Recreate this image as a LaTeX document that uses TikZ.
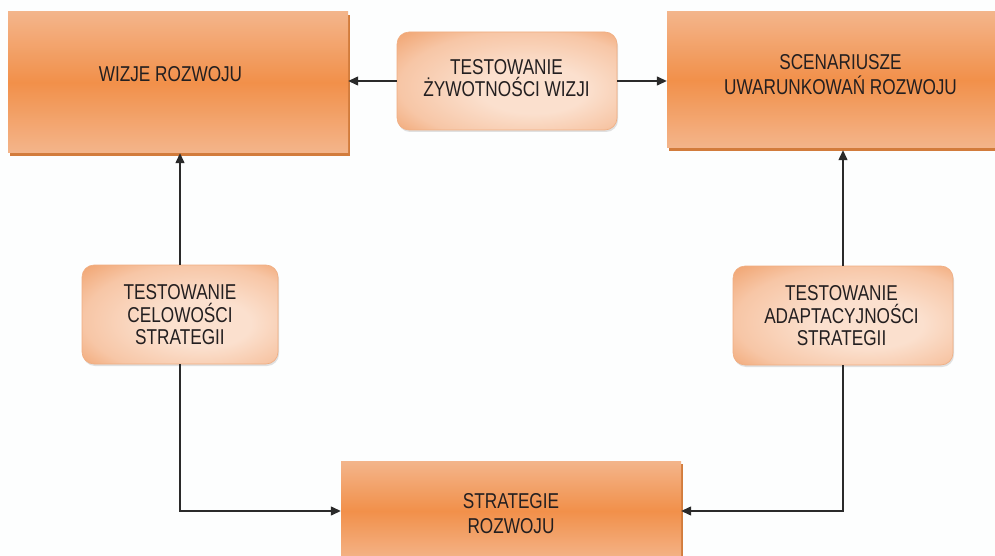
\documentclass[tikz,border=0pt]{standalone}
\usepackage{fontspec}
\setmainfont{Liberation Sans}[FakeStretch=0.8]
\usetikzlibrary{arrows.meta,shadows}

\definecolor{paper}{HTML}{FDFEFE}
\definecolor{barlight}{HTML}{F3B58B}
\definecolor{barmid}{HTML}{F2904A}
\definecolor{barshade}{HTML}{D27C3C}
\definecolor{peachin}{HTML}{FBE0CE}
\definecolor{peachmid}{HTML}{F7C6A6}
\definecolor{peachout}{HTML}{EF9C64}
\definecolor{peachedge}{HTML}{F0AE82}
\definecolor{ink}{HTML}{231F20}
\definecolor{wire}{HTML}{2A2A2A}

% soft glow for the rounded test boxes, brighter towards lower right
\pgfdeclareradialshading{peachglow}{\pgfpoint{8bp}{-6bp}}{%
  color(0bp)=(peachin); color(12bp)=(peachin); color(28bp)=(peachmid);
  color(40bp)=(peachout); color(50bp)=(peachout)}

\tikzset{
  bigbox/.style={rectangle, inner sep=0pt, draw=none,
    top color=barlight, bottom color=barlight, middle color=barmid,
    general shadow={fill=barshade, shadow xshift=1.5pt, shadow yshift=-3pt}},
  testbox/.style={rectangle, rounded corners=12pt, inner sep=0pt,
    shading=peachglow, draw=peachedge, line width=0.6pt,
    general shadow={fill=black!12, shadow xshift=1pt, shadow yshift=-2pt}},
  label/.style={text=ink, align=center, inner sep=0pt,
    font=\fontsize{21.5}{25}\selectfont},
  testlabel/.style={label, font=\fontsize{21.5}{22.5}\selectfont},
  link/.style={draw=wire, line width=1.3pt,
    -{Triangle[length=10pt,width=9pt]}},
}

\begin{document}
\begin{tikzpicture}[x=1pt,y=-1pt]
  \useasboundingbox (0,0) rectangle (995,556);
  \fill[paper] (0,0) rectangle (995,556);

  % main stages
  \node[bigbox, minimum width=340pt, minimum height=141pt] (wiz) at (178,82.5) {};
  \node[bigbox, minimum width=333pt, minimum height=136pt] (scen) at (833.5,80) {};
  \node[bigbox, minimum width=340pt, minimum height=100pt] (strat) at (511,511) {};

  % tests between the stages
  \node[testbox, minimum width=220pt, minimum height=98pt] (t1) at (507,81) {};
  \node[testbox, minimum width=196pt, minimum height=99pt] (cel) at (180,314.5) {};
  \node[testbox, minimum width=220pt, minimum height=99pt] (ad) at (843,315.5) {};

  % captions
  \node[label] (wizt) at (170.5,74) {WIZJE ROZWOJU};
  \node[label] (scent) at (840.5,75) {SCENARIUSZE\\UWARUNKOWAŃ ROZWOJU};
  \node[label] (stratt) at (511,514) {STRATEGIE\\ROZWOJU};
  \node[testlabel] (t1t) at (506.5,78) {TESTOWANIE\\ŻYWOTNOŚCI WIZJI};
  \node[testlabel] (celt) at (180,315) {TESTOWANIE\\CELOWOŚCI\\STRATEGII};
  \node[testlabel] (adt) at (841.5,316) {TESTOWANIE\\ADAPTACYJNOŚCI\\STRATEGII};

  % connectors
  \draw[link] (t1.west) -- (t1.west -| wiz.east);
  \draw[link] (t1.east) -- (t1.east -| scen.west);
  \draw[link] (cel.north) -- (cel.north |- wiz.south);
  \draw[link] (ad.north) -- ([yshift=-2pt]ad.north |- scen.south);
  \draw[link] (cel.south) -- (cel.south |- strat.west) -- (strat.west);
  \draw[link] (ad.south) -- (ad.south |- strat.east) -- (strat.east);
\end{tikzpicture}
\end{document}
